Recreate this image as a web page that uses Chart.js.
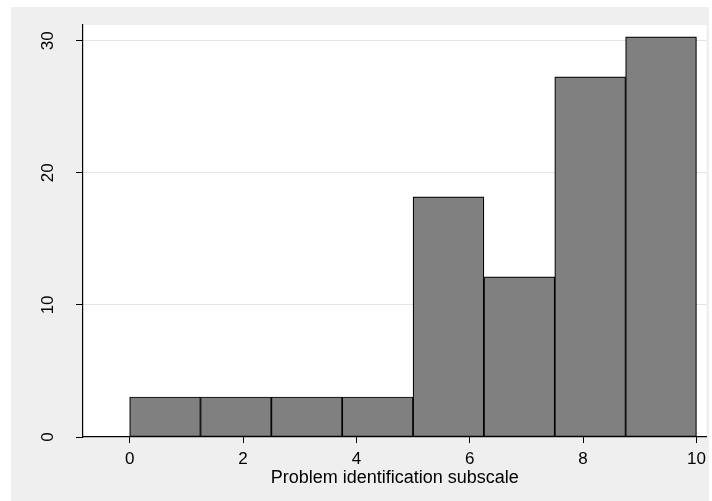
<!DOCTYPE html>
<html lang="en">
<head>
    <meta charset="UTF-8">
    <title>Problem identification subscale</title>
    <style>
        body { margin: 0; background: #fff; }
        #wrap { width: 712px; height: 501px; }
    </style>
</head>
<body>
<script src="https://cdn.jsdelivr.net/npm/chart.js"></script>
<div id="wrap"><canvas id="chart" width="712" height="501"></canvas></div>
<script>
    // histogram bins (width 1.25) and percent values
    const binCenters = [0.625, 1.875, 3.125, 4.375, 5.625, 6.875, 8.125, 9.375];
    const percents = [3.03, 3.03, 3.03, 3.03, 18.18, 12.12, 27.27, 30.30];
    const xTicks = [0, 2, 4, 6, 8, 10];
    const yTicks = [0, 10, 20, 30];
    const xTitle = 'Problem identification subscale';

    const FONT = '"Liberation Sans", Arial, sans-serif';

    // grey graph region + white plot region
    const backdrop = {
        id: 'backdrop',
        beforeDraw(chart) {
            const c = chart.ctx, a = chart.chartArea;
            c.save();
            c.fillStyle = '#fff';
            c.fillRect(0, 0, chart.width, chart.height);
            c.fillStyle = '#efefef';
            c.fillRect(11, 7, 698, 494);
            c.fillStyle = '#fff';
            c.fillRect(a.left, a.top, a.right - a.left, a.bottom - a.top);
            c.restore();
        }
    };

    // y labels are rotated like in Stata
    const yLabels = {
        id: 'yLabels',
        afterDraw(chart) {
            const c = chart.ctx, y = chart.scales.y;
            c.save();
            c.font = '17px ' + FONT;
            c.fillStyle = '#000';
            c.textAlign = 'center';
            c.textBaseline = 'middle';
            yTicks.forEach(v => {
                c.save();
                c.translate(48, y.getPixelForValue(v));
                c.rotate(-Math.PI / 2);
                c.fillText(String(v), 0, 0);
                c.restore();
            });
            c.restore();
        }
    };

    new Chart(document.getElementById('chart'), {
        type: 'bar',
        data: {
            datasets: [{
                data: binCenters.map((x, i) => ({ x: x, y: percents[i] })),
                backgroundColor: '#808080',
                borderColor: '#000',
                borderWidth: 1.2,
                borderSkipped: false,
                barPercentage: 1,
                categoryPercentage: 1
            }]
        },
        options: {
            responsive: false,
            animation: false,
            devicePixelRatio: 1,
            layout: { padding: { left: 11, top: 25, right: 5, bottom: 0 } },
            plugins: { legend: { display: false }, tooltip: { enabled: false } },
            scales: {
                x: {
                    type: 'linear',
                    offset: false,
                    min: -0.823,
                    max: 10.177,
                    afterBuildTicks: s => { s.ticks = xTicks.map(v => ({ value: v })); },
                    afterFit: s => { s.height = 64; },
                    border: { color: '#000', width: 1.2 },
                    grid: { offset: false, drawOnChartArea: false, tickLength: 6, tickColor: '#000' },
                    ticks: { color: '#000', font: { family: FONT, size: 17 }, padding: 6, maxRotation: 0 },
                    title: {
                        display: true,
                        text: xTitle,
                        color: '#000',
                        font: { family: FONT, size: 18 },
                        padding: { top: 0, bottom: 12 }
                    }
                },
                y: {
                    min: 0,
                    max: 31.19,
                    afterBuildTicks: s => { s.ticks = yTicks.map(v => ({ value: v })); },
                    afterFit: s => { s.width = 72; },
                    border: { color: '#000', width: 1.2 },
                    grid: {
                        color: c => c.tick && c.tick.value === 0 ? 'rgba(0,0,0,0)' : '#e4e4e4',
                        tickColor: '#000',
                        tickLength: 7
                    },
                    ticks: { display: false }
                }
            }
        },
        plugins: [backdrop, yLabels]
    });
</script>
</body>
</html>
